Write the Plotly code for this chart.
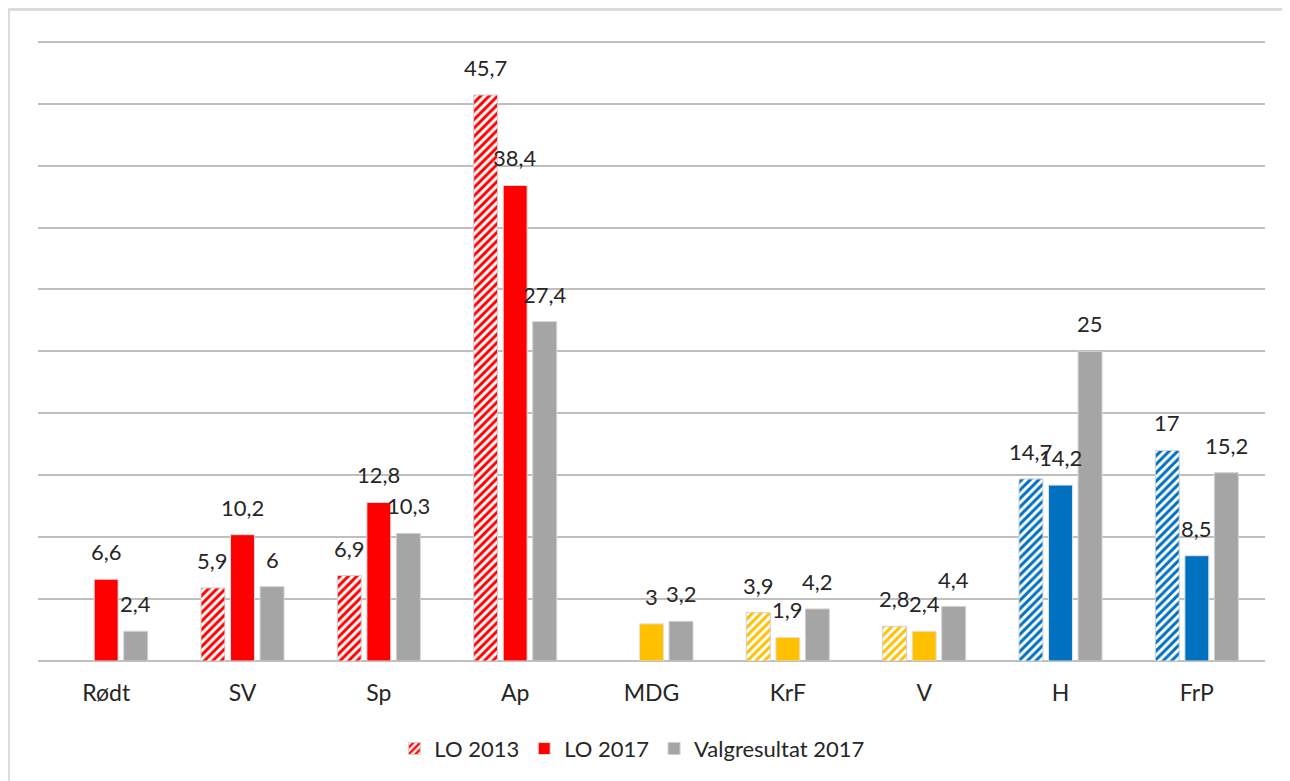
import plotly.graph_objects as go

# data
partier = ["Rødt", "SV", "Sp", "Ap", "MDG", "KrF", "V", "H", "FrP"]
lo_2013 = [None, 5.9, 6.9, 45.7, None, 3.9, 2.8, 14.7, 17]
lo_2017 = [6.6, 10.2, 12.8, 38.4, 3, 1.9, 2.4, 14.2, 8.5]
valg_2017 = [2.4, 6, 10.3, 27.4, 3.2, 4.2, 4.4, 25, 15.2]
blokk = ["rod", "rod", "rod", "rod", "gul", "gul", "gul", "bla", "bla"]

farger = {"rod": "#FF0000", "gul": "#FFC000", "bla": "#0070C0"}
bar_colors = [farger[b] for b in blokk]
GRA = "#A5A5A5"
TXT = "#262626"
FONT = "Lato"

def fmt(v):
    return str(v).replace(".", ",")

fig = go.Figure()
fig.add_trace(go.Bar(
    x=partier, y=lo_2013, name="LO 2013",
    marker=dict(color="white", line=dict(color="#d0d0d0", width=1),
                pattern=dict(shape="/", fgcolor=bar_colors, bgcolor="white",
                             fgopacity=1, size=6, solidity=0.5,
                             fillmode="replace")),
))
fig.add_trace(go.Bar(
    x=partier, y=lo_2017, name="LO 2017",
    marker=dict(color=bar_colors, line=dict(color="#e0e0e0", width=1)),
))
fig.add_trace(go.Bar(
    x=partier, y=valg_2017, name="Valgresultat 2017",
    marker=dict(color=GRA, line=dict(color="#d0d0d0", width=1)),
))

# data labels above the bars (pixel shift per slot in the group)
slot = 29.6
for serie, dx in [(lo_2013, -slot), (lo_2017, 0), (valg_2017, slot)]:
    for p, v in zip(partier, serie):
        if v is None:
            continue
        fig.add_annotation(x=p, y=v, text=fmt(v), showarrow=False,
                           xanchor="center", yanchor="bottom",
                           xshift=dx, yshift=12,
                           font=dict(family=FONT, size=22, color=TXT))

# outer frame
fig.add_shape(type="rect", xref="paper", yref="paper",
              x0=-0.024, x1=1.2, y0=-0.5, y1=1.0457,
              line=dict(color="#dcdcdc", width=3), fillcolor="rgba(0,0,0,0)",
              layer="below")

fig.update_layout(
    width=1282, height=773,
    margin=dict(l=30, r=25, t=30, b=119),
    paper_bgcolor="white", plot_bgcolor="white",
    barmode="group", bargap=0.35, bargroupgap=0.19,
    font=dict(family=FONT, size=22, color=TXT),
    showlegend=True,
    legend=dict(orientation="h", x=0.484, xanchor="center",
                y=-0.139, yanchor="middle",
                font=dict(family=FONT, size=22, color=TXT),
                itemwidth=30, tracegroupgap=0),
    xaxis=dict(showgrid=False, ticks="", showline=False,
               tickfont=dict(family=FONT, size=23, color=TXT),
               ticklabelstandoff=16),
    yaxis=dict(range=[0, 50.3], dtick=5, showticklabels=False,
               showgrid=True, gridcolor="#bfbfbf", gridwidth=2,
               zeroline=True, zerolinecolor="#bfbfbf", zerolinewidth=2,
               showline=False),
)

fig.write_html("out.html")
